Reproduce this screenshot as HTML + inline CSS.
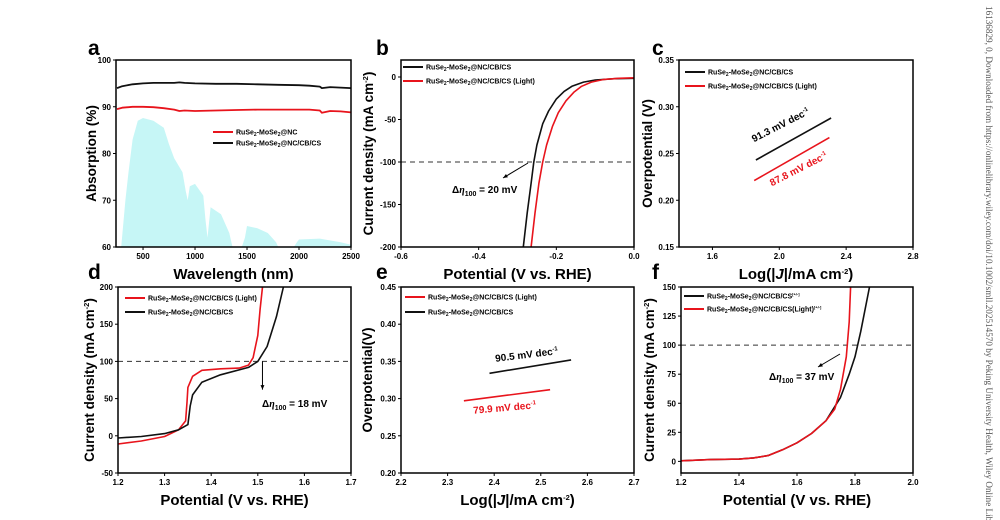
<!DOCTYPE html>
<html><head><meta charset="utf-8"><style>
html,body{margin:0;padding:0;background:#fff;overflow:hidden;width:1000px;height:520px;}
svg{display:block;font-family:"Liberation Sans",Arial,sans-serif;overflow:hidden;}
</style></head><body>
<svg id="fig" width="1000" height="520" viewBox="0 0 1000 520" xmlns="http://www.w3.org/2000/svg"></svg>
<script>
// ---- panel a data ----
const aWl = [250,300,400,500,600,700,800,850,900,1000,1200,1400,1600,1800,2000,2100,2200,2220,2300,2400,2500];
const aBlack = [94,94.4,94.8,95,95.1,95.1,95.1,95.2,95.1,95,94.9,94.9,94.8,94.7,94.6,94.5,94.3,94.0,94.2,94.1,94.0];
const aRed = [89.5,89.8,90,90,89.9,89.7,89.4,89.1,89.2,89.1,89.2,89.3,89.4,89.4,89.4,89.4,89.2,88.7,89.1,89.0,88.8];
const aSolarWl = [290,330,360,400,450,500,600,700,750,800,880,910,930,950,1000,1080,1100,1120,1150,1250,1330,1350,1360,1450,1480,1500,1600,1700,1780,1800,1950,1980,2000,2200,2400,2500];
const aSolarVal = [60,70,76,83,87,87.6,87,85.5,82,79,76,72,70,73,73.5,71,66,62,68.5,67,63,61,60,60,62,64.5,64,63,61,60,60,61,61.6,61.8,61,60.5];
// ---- panel b data ----
const bPot = [-0.285,-0.275,-0.265,-0.258,-0.25,-0.235,-0.22,-0.2,-0.18,-0.16,-0.13,-0.1,-0.05,0];
const bBlack = [-200,-160,-125,-100,-80,-55,-40,-26,-17,-11,-6,-3.5,-2,-1.5];
const bPotL = [-0.265,-0.255,-0.245,-0.235,-0.225,-0.21,-0.195,-0.175,-0.155,-0.135,-0.11,-0.08,-0.04,0];
const bLight = [-200,-160,-125,-100,-80,-58,-42,-28,-18,-11,-6,-3,-1.5,-1];
// ---- panel c data ----
const cX = [1.86,2.31]; const cBlack = [0.243,0.288];
const cXL = [1.85,2.30]; const cLight = [0.221,0.267];
// ---- panel d data ----
const dPotL = [1.2,1.25,1.3,1.33,1.345,1.348,1.35,1.36,1.38,1.42,1.46,1.48,1.49,1.5,1.505,1.51];
const dLight = [-11,-7,-1,8,20,45,65,80,88,90,91,95,105,135,170,200];
const dPot = [1.2,1.25,1.3,1.33,1.35,1.355,1.36,1.38,1.42,1.48,1.5,1.52,1.54,1.555];
const dBlack = [-3,-1,3,8,15,40,55,72,82,92,100,120,160,200];
// ---- panel e data ----
const eX = [2.39,2.565]; const eBlack = [0.334,0.352];
const eXL = [2.335,2.52]; const eLight = [0.297,0.312];
// ---- panel f data ----
const fPot = [1.2,1.3,1.4,1.45,1.5,1.55,1.6,1.65,1.7,1.75,1.78,1.8,1.82,1.85];
const fBlack = [0.5,1.5,2,3,5,10,16,24,35,55,75,90,112,150];
const fPotL = [1.2,1.3,1.4,1.45,1.5,1.55,1.6,1.65,1.7,1.73,1.75,1.77,1.78,1.785];
const fLight = [0.5,1.5,2,3,5,10,16,24,35,45,62,90,120,150];

const NS = "http://www.w3.org/2000/svg";
const svg = document.getElementById('fig');
function mk(tag, attrs, parent){const e=document.createElementNS(NS,tag);for(const k in attrs)e.setAttribute(k,attrs[k]);(parent||svg).appendChild(e);return e;}
function scale(d0,d1,r0,r1){return v=>r0+(v-d0)*(r1-r0)/(d1-d0);}

function axes(P, xt, yt, xtitleY, ytitleX, xtitle, ytitle){
  const g = mk('g',{});
  
  
  const fr = mk('rect',{x:P.x0,y:P.y0,width:P.x1-P.x0,height:P.y1-P.y0,fill:'none',stroke:'#000','stroke-width':1.5},g);
  
  
  xt.forEach(t=>{const x=P.sx(t.v);
    mk('line',{x1:x,x2:x,y1:P.y1,y2:P.y1+3,stroke:'#000','stroke-width':1},g);
    const tl=mk('text',{x:x,y:P.y1+12,'font-size':8,'font-weight':'bold','text-anchor':'middle'},g);
    tl.textContent=t.l;
    
    
  });
  yt.forEach(t=>{const y=P.sy(t.v);
    mk('line',{x1:P.x0-3,x2:P.x0,y1:y,y2:y,stroke:'#000','stroke-width':1},g);
    const tl=mk('text',{x:P.x0-5,y:y+3,'font-size':8,'font-weight':'bold','text-anchor':'end'},g);
    tl.textContent=t.l;
    
    
  });
  const xtT=mk('text',{x:(P.x0+P.x1)/2,y:xtitleY,'font-size':15,'font-weight':'bold','text-anchor':'middle'},g);
  xtT.innerHTML=xtitle;
  
  
  const cy=(P.y0+P.y1)/2;
  const ytT=mk('text',{x:ytitleX,y:cy,'font-size':13.5,'font-weight':'bold','text-anchor':'middle',transform:`rotate(-90 ${ytitleX} ${cy})`},g);
  ytT.innerHTML=ytitle;
  
  
}
function line(P, xs, ys, color, name, w){
  const d = xs.map((x,i)=>(i?'L':'M')+P.sx(x).toFixed(1)+','+P.sy(ys[i]).toFixed(1)).join('');
  const p = mk('path',{d:d,fill:'none',stroke:color,'stroke-width':w||1.6,'stroke-linejoin':'round'});
  
  
  return p;
}
const SUB = '<tspan font-size="5" dy="1.5">2</tspan><tspan dy="-1.5">';
function legend(P, x, y, color, label, name){
  const g = mk('g',{});
  
  
  mk('line',{x1:x,x2:x+20,y1:y,y2:y,stroke:color,'stroke-width':2},g);
  const t = mk('text',{x:x+23,y:y+2.5,'font-size':7,'font-weight':'bold'},g);
  t.innerHTML = 'RuSe'+SUB+'-MoSe'+SUB+label+'</tspan></tspan>';
}
function txt(x,y,content,opts,name){
  const t=mk('text',Object.assign({x:x,y:y,'font-weight':'bold'},opts));
  t.innerHTML=content;
  
  
  return t;
}
function hdash(P,v,name){const y=P.sy(v);
  const l=mk('line',{x1:P.x0,x2:P.x1,y1:y,y2:y,stroke:'#333','stroke-width':1,'stroke-dasharray':'5,4'});
  
  }
function arrow(x1,y1,x2,y2,name){
  const a=Math.atan2(y2-y1,x2-x1),h=5;
  const g=mk('g',{});
  
  
  mk('line',{x1:x1,y1:y1,x2:x2,y2:y2,stroke:'#000','stroke-width':1},g);
  mk('path',{d:`M${x2},${y2}L${x2-h*Math.cos(a-0.4)},${y2-h*Math.sin(a-0.4)}L${x2-h*Math.cos(a+0.4)},${y2-h*Math.sin(a+0.4)}Z`,fill:'#000'},g);
}
const sup = s=>`<tspan font-size="7.5" dy="-5">${s}</tspan>`;
const YJ = 'Current density (mA cm'+sup('-2')+'<tspan dy="5">)</tspan>';
const LOGJ = 'Log(|<tspan font-style="italic">J</tspan>|/mA cm'+sup('-2')+'<tspan dy="5">)</tspan>';
const POT = 'Potential (V vs. RHE)';
const ETA = s=>'Δ<tspan font-style="italic" font-family="Liberation Serif">η</tspan><tspan font-size="7" dy="3">100</tspan><tspan dy="-3"> = '+s+'</tspan>';

// panel letters
[['a',88,55],['b',376,55],['c',652,55],['d',88,279],['e',376,279],['f',652,279]].forEach(p=>{
  const t=txt(p[1],p[2],p[0],{'font-size':21},'panel-label-'+p[0]);
});

// ===== a =====
const A={name:'panel-a',x0:116,x1:351,y0:60,y1:247};
A.sx=scale(240,2500,116,351); A.sy=scale(60,100,247,60);
const solar = 'M'+A.sx(aSolarWl[0])+','+A.sy(60)+aSolarWl.map((w,i)=>'L'+A.sx(w).toFixed(1)+','+A.sy(aSolarVal[i]).toFixed(1)).join('')+'L'+A.sx(2500)+','+A.sy(60)+'Z';
const sp=mk('path',{d:solar,fill:'#c6f6f6'});


line(A,aWl,aBlack,'#111','absorption-nc-cb-cs-line',1.8);
line(A,aWl,aRed,'#e8141c','absorption-nc-line',1.8);
axes(A,[500,1000,1500,2000,2500].map(v=>({v,l:v})),[60,70,80,90,100].map(v=>({v,l:v})),279,96,'Wavelength (nm)','Absorption (%)');
legend(A,213,132,'#e8141c','@NC','legend-entry-nc');
legend(A,213,143,'#111','@NC/CB/CS','legend-entry-nc-cb-cs');

// ===== b =====
const B={name:'panel-b',x0:401,x1:634,y0:60,y1:247};
B.sx=scale(-0.6,0,401,634); B.sy=scale(-200,20,247,60);
hdash(B,-100,'b-100-reference-line');
line(B,bPot,bBlack,'#111','lsv-dark-line');
line(B,bPotL,bLight,'#e8141c','lsv-light-line');
axes(B,[-0.6,-0.4,-0.2,0].map(v=>({v,l:v.toFixed(1)})),[0,-50,-100,-150,-200].map(v=>({v,l:v})),279,373,POT,YJ);
legend(B,403,67,'#111','@NC/CB/CS','legend-entry-dark');
legend(B,403,81,'#e8141c','@NC/CB/CS (Light)','legend-entry-light');
arrow(528,163,503,178,'b-annotation-arrow');
txt(452,193,ETA('20 mV'),{'font-size':10},'b-delta-eta-label');

// ===== c =====
const C={name:'panel-c',x0:679,x1:913,y0:60,y1:247};
C.sx=scale(1.4,2.8,679,913); C.sy=scale(0.15,0.35,247,60);
line(C,cX,cBlack,'#111','tafel-dark-line');
line(C,cXL,cLight,'#e8141c','tafel-light-line');
axes(C,[1.6,2.0,2.4,2.8].map(v=>({v,l:v.toFixed(1)})),[0.15,0.2,0.25,0.3,0.35].map(v=>({v,l:v.toFixed(2)})),279,652,LOGJ,'Overpotential (V)');
legend(C,685,72,'#111','@NC/CB/CS','legend-entry-dark');
legend(C,685,86,'#e8141c','@NC/CB/CS (Light)','legend-entry-light');
txt(782,128,'91.3 mV dec'+'<tspan font-size="6" dy="-4">-1</tspan>',{'font-size':10,'text-anchor':'middle',transform:'rotate(-27 782 128)'},'tafel-dark-slope-label');
txt(800,172,'87.8 mV dec'+'<tspan font-size="6" dy="-4">-1</tspan>',{'font-size':10,'text-anchor':'middle',fill:'#e8141c',transform:'rotate(-27 800 172)'},'tafel-light-slope-label');

// ===== d =====
const D={name:'panel-d',x0:118,x1:351,y0:287,y1:473};
D.sx=scale(1.2,1.7,118,351); D.sy=scale(-50,200,473,287);
hdash(D,100,'d-100-reference-line');
line(D,dPotL,dLight,'#e8141c','oer-light-line');
line(D,dPot,dBlack,'#111','oer-dark-line');
axes(D,[1.2,1.3,1.4,1.5,1.6,1.7].map(v=>({v,l:v.toFixed(1)})),[-50,0,50,100,150,200].map(v=>({v,l:v})),505,94,POT,YJ);
legend(D,125,298,'#e8141c','@NC/CB/CS (Light)','legend-entry-light');
legend(D,125,312,'#111','@NC/CB/CS','legend-entry-dark');
arrow(D.sx(1.51),D.sy(100),D.sx(1.51),D.sy(62),'d-annotation-arrow');
txt(262,407,ETA('18 mV'),{'font-size':10},'d-delta-eta-label');

// ===== e =====
const E={name:'panel-e',x0:401,x1:634,y0:287,y1:473};
E.sx=scale(2.2,2.7,401,634); E.sy=scale(0.2,0.45,473,287);
line(E,eX,eBlack,'#111','tafel-oer-dark-line');
line(E,eXL,eLight,'#e8141c','tafel-oer-light-line');
axes(E,[2.2,2.3,2.4,2.5,2.6,2.7].map(v=>({v,l:v.toFixed(1)})),[0.2,0.25,0.3,0.35,0.4,0.45].map(v=>({v,l:v.toFixed(2)})),505,372,LOGJ,'Overpotential(V)');
legend(E,405,297,'#e8141c','@NC/CB/CS (Light)','legend-entry-light');
legend(E,405,312,'#111','@NC/CB/CS','legend-entry-dark');
txt(527,358,'90.5 mV dec'+'<tspan font-size="6" dy="-4">-1</tspan>',{'font-size':10,'text-anchor':'middle',transform:'rotate(-7 527 358)'},'tafel-oer-dark-slope-label');
txt(505,411,'79.9 mV dec'+'<tspan font-size="6" dy="-4">-1</tspan>',{'font-size':10,'text-anchor':'middle',fill:'#e8141c',transform:'rotate(-5 505 411)'},'tafel-oer-light-slope-label');

// ===== f =====
const F={name:'panel-f',x0:681,x1:913,y0:287,y1:473};
F.sx=scale(1.2,2.0,681,913); F.sy=scale(-10,150,473,287);
hdash(F,100,'f-100-reference-line');
line(F,fPot,fBlack,'#111','f-dark-line');
line(F,fPotL,fLight,'#e8141c','f-light-line');
axes(F,[1.2,1.4,1.6,1.8,2.0].map(v=>({v,l:v.toFixed(1)})),[0,25,50,75,100,125,150].map(v=>({v,l:v})),505,654,POT,YJ);
legend(F,684,296,'#111','@NC/CB/CS<tspan font-size="4" dy="-3">[+/-]</tspan>','legend-entry-dark');
legend(F,684,309,'#e8141c','@NC/CB/CS(Light)<tspan font-size="4" dy="-3">[+/-]</tspan>','legend-entry-light');
arrow(840,354,818,367,'f-annotation-arrow');
txt(769,380,ETA('37 mV'),{'font-size':10},'f-delta-eta-label');

// side watermark
const wm=mk('text',{x:986,y:6,'font-size':9.5,fill:'#555','font-family':'Liberation Serif, serif',textLength:530,lengthAdjust:'spacingAndGlyphs',transform:'rotate(90 986 6)'});
wm.textContent='16136829, 0, Downloaded from https://onlinelibrary.wiley.com/doi/10.1002/smll.202514570 by Peking University Health, Wiley Online Library';


</script>
</body></html>
